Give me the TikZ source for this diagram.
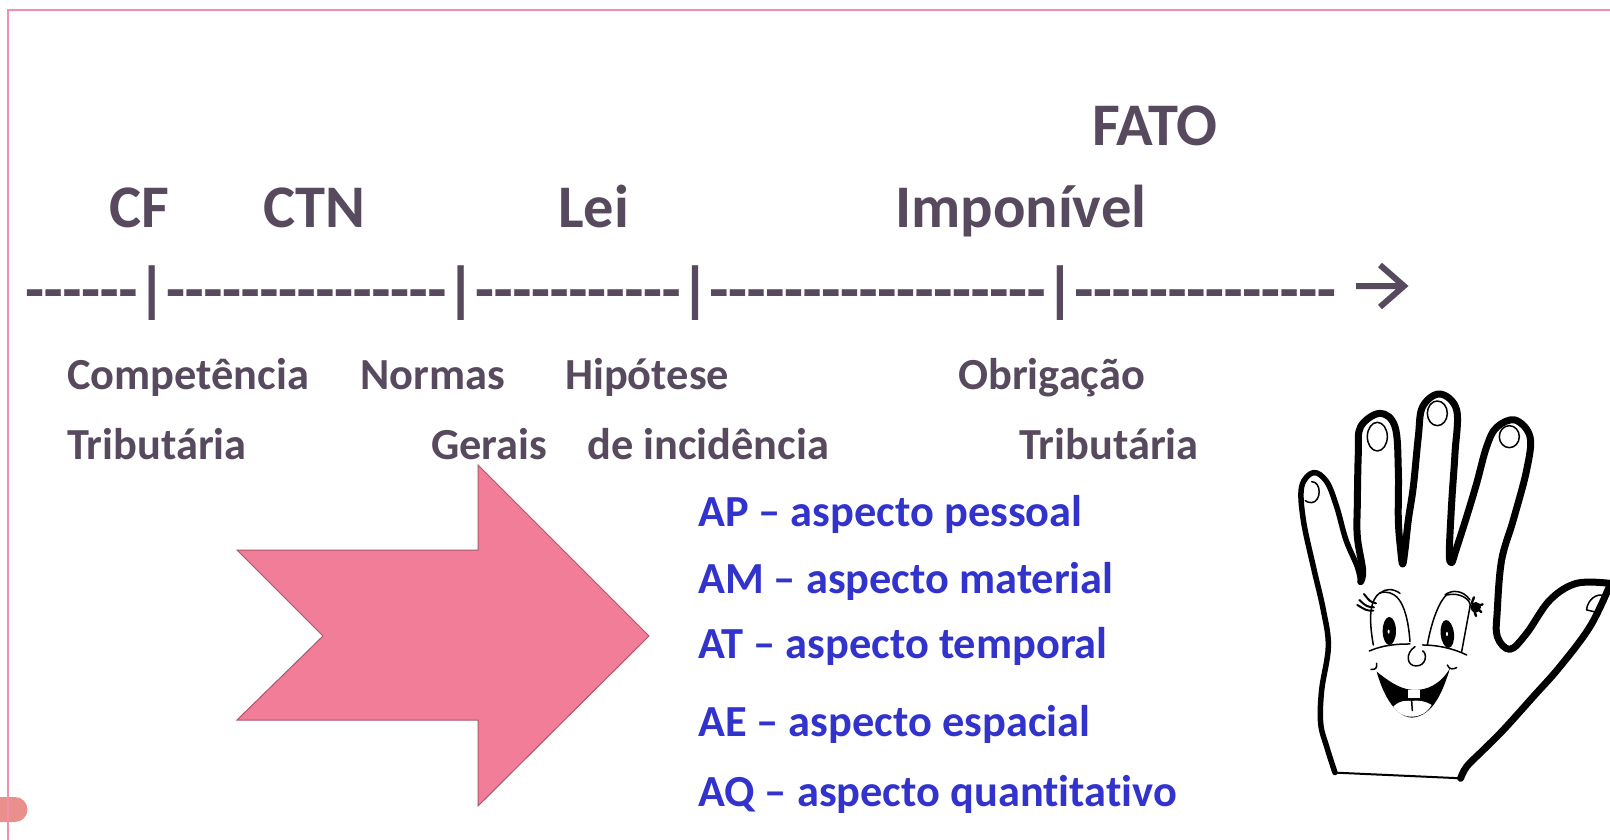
\documentclass[tikz,border=0pt]{standalone}
\usepackage{fontspec}
\setmainfont[Ligatures=NoCommon]{Carlito}
\newfontfamily\rulefont[Ligatures=NoCommon,Mapping=,BoldFeatures={FakeBold=0.4}]{Carlito}
\definecolor{mgray}{HTML}{584A5E}
\definecolor{mblue}{HTML}{3232CC}
\definecolor{mpink}{HTML}{F27D98}
\definecolor{mframe}{HTML}{F48FAB}
\definecolor{mblob}{HTML}{E9908C}
\tikzset{
  big/.style={anchor=base west, inner sep=0pt, text=mgray, font=\fontsize{60.5}{64}\selectfont\bfseries},
  mid/.style={anchor=base west, inner sep=0pt, text=mgray, font=\fontsize{44.4}{48}\selectfont\bfseries},
  rulebar/.style={anchor=base west, inner sep=0pt, text=mgray, font=\rulefont\fontsize{61}{64}\selectfont\bfseries},
  asp/.style={anchor=base west, inner sep=0pt, text=mblue, font=\fontsize{44.4}{48}\selectfont\bfseries},
  thin ink/.style={line width=1.5pt, line cap=round, line join=round},
  thick ink/.style={line width=7pt, line cap=round, line join=round},
}

\begin{document}
\begin{tikzpicture}[x=1pt, y=-1pt]
  \useasboundingbox (0,0) rectangle (1610,840);

  % frame and corner mark
  \fill[mblob] (0,797) -- (15,797) arc[start angle=-90, end angle=90, radius=12.5] -- (0,822) -- cycle;
  \draw[mframe, line width=1.6pt] (8,840) -- (8,10) -- (1610,10);

  % upper labels
  \node[big] (fato) at (1092,146) {FATO};
  \node[big] (cf) at (109,227) {CF};
  \node[big] (ctn) at (263,227) {CTN};
  \node[big] (lei) at (558,227) {Lei};
  \node[big] (imponivel) at (895,227) {Imponível};

  % time line
  \node[rulebar] (line) at (25,310) {------|---------------|-----------|------------------|--------------};
  \coordinate (tip) at (1404,286);
  \coordinate (tail) at (1356,286);
  \draw[mgray, line width=6pt, line join=miter] (tail) -- (tip) (1380,265) -- (tip) -- (1380,307);

  % lower labels
  \node[mid] (comp) at (67,389) {Competência};
  \node[mid] (normas) at (360,389) {Normas};
  \node[mid] (hipotese) at (565,389) {Hipótese};
  \node[mid] (obrigacao) at (958,389) {Obrigação};
  \node[mid] (trib) at (67,459) {Tributária};
  \node[mid] (gerais) at (431,459) {Gerais};
  \node[mid] (incidencia) at (587,459) {de incidência};
  \node[mid] (tribb) at (1019,459) {Tributária};

  % big arrow
  \draw[fill=mpink, draw=mpink!70!black, line width=1pt]
    (237,550) -- (478,550) -- (478,465) -- (649,636) -- (478,806)
    -- (478,720) -- (237,720) -- (323,636) -- cycle;

  % the five aspects
  \node[asp] (ap) at (698,526) {AP – aspecto pessoal};
  \node[asp] (am) at (698,593) {AM – aspecto material};
  \node[asp] (at) at (698,658) {AT – aspecto temporal};
  \node[asp] (ae) at (698,736) {AE – aspecto espacial};
  \node[asp] (aq) at (698,806) {AQ – aspecto quantitativo};

  % hand
  \begin{scope}[shift={(1270,370)}, x=0.3333pt, y=-0.3333pt]
    \clip (-10,0) rectangle (1020,1300);
    \draw[line width=5.5pt, line cap=round, line join=round] plot[smooth, tension=0.6] coordinates {
      (195,1208) (170,1130) (152,1060) (155,960) (175,830) (160,720) (130,590) (100,450) (95,350) (130,308)
      (170,335) (200,410) (228,510) (262,590) (272,635)};
    \draw[thick ink] plot[smooth, tension=0.6] coordinates {
      (272,635) (278,600) (262,500) (262,400) (265,250) (272,170) (330,130) (375,170) (385,300) (385,450)
      (392,540) (398,582) (405,540) (415,450) (430,350) (445,200) (458,110) (510,72) (560,120) (555,250) (545,400)
      (538,550) (545,578) (558,540) (590,440) (620,340) (650,230) (680,172) (735,150) (780,200) (770,300) (730,450)
      (695,570) (682,720) (682,800) (720,838) (770,790) (840,690) (920,640) (1018,640)};
    \draw[thick ink] plot[smooth, tension=0.6] coordinates {
      (1018,650) (960,770) (870,890) (790,980) (700,1080) (640,1140) (590,1190) (572,1225)};
    \draw[line width=2pt] (195,1208) -- (572,1225);

    % nails
    \draw[thin ink] (322,200) ellipse[x radius=30, y radius=43];
    \draw[thin ink] (502,130) ellipse[x radius=30, y radius=37];
    \draw[thin ink] (718,200) ellipse[x radius=30, y radius=33];
    \draw[thin ink] (125,335) .. controls (155,335) and (155,395) .. (125,398) .. controls (115,398) and (110,395) .. (106,392);
    \draw[thin ink] (998,675) .. controls (965,672) and (950,705) .. (950,720) -- (985,728);

    % eyes
    \draw[thin ink] (310,825) .. controls (295,740) and (300,690) .. (330,668) .. controls (370,660) and (410,680) .. (420,815);
    \draw[thin ink] (330,670) .. controls (345,655) and (370,655) .. (390,670);
    \draw[thin ink] (298,843) .. controls (340,825) and (380,822) .. (420,822);
    \fill (358,783) ellipse[x radius=20, y radius=42];
    \fill[white] (356,785) ellipse[x radius=3, y radius=6];
    \draw[thin ink] (472,825) .. controls (485,750) and (510,690) .. (530,675) .. controls (570,665) and (605,690) .. (600,710) -- (575,845);
    \draw[thin ink] (525,675) .. controls (545,658) and (580,660) .. (600,690);
    \draw[thin ink] (458,825) .. controls (500,825) and (550,835) .. (590,855);
    \fill[rotate around={6:(532,792)}] (532,792) ellipse[x radius=20, y radius=42];
    \fill[white] (531,792) ellipse[x radius=3, y radius=6];
    \draw[line width=2pt, line cap=round] (310,722) .. controls (290,722) .. (262,705) (312,712) .. controls (290,710) .. (268,690) (318,700) .. controls (300,695) .. (282,672);
    \fill (617,712) circle[radius=16];
    \draw[line width=2.4pt, line cap=round] (605,700) -- (612,682) (617,710) -- (638,703) (617,712) -- (634,726) (612,720) -- (618,738);

    % nose
    \draw[thin ink] (435,830) .. controls (405,850) and (410,888) .. (438,888) .. controls (470,888) and (472,850) .. (458,843);

    % mouth
    \fill (320,905) .. controls (370,945) and (400,960) .. (435,960) .. controls (470,960) and (510,945) .. (540,895)
      .. controls (520,960) and (490,1040) .. (425,1043) .. controls (370,1040) and (335,960) .. cycle;
    \fill[white] (415,960) -- (450,960) -- (450,985) -- (415,985) -- cycle;
    \fill[white] (370,1010) .. controls (390,990) and (410,992) .. (425,993) .. controls (450,990) and (470,995) .. (485,1005)
      .. controls (470,1030) and (450,1040) .. (425,1040) .. controls (400,1040) and (385,1030) .. cycle;
    \draw[thin ink] (425,993) -- (427,1022);
    \draw[thin ink] (303,898) .. controls (315,900) and (322,895) .. (320,880);
    \draw[thin ink] (532,885) .. controls (538,900) and (550,898) .. (560,893);
  \end{scope}
\end{tikzpicture}
\end{document}
